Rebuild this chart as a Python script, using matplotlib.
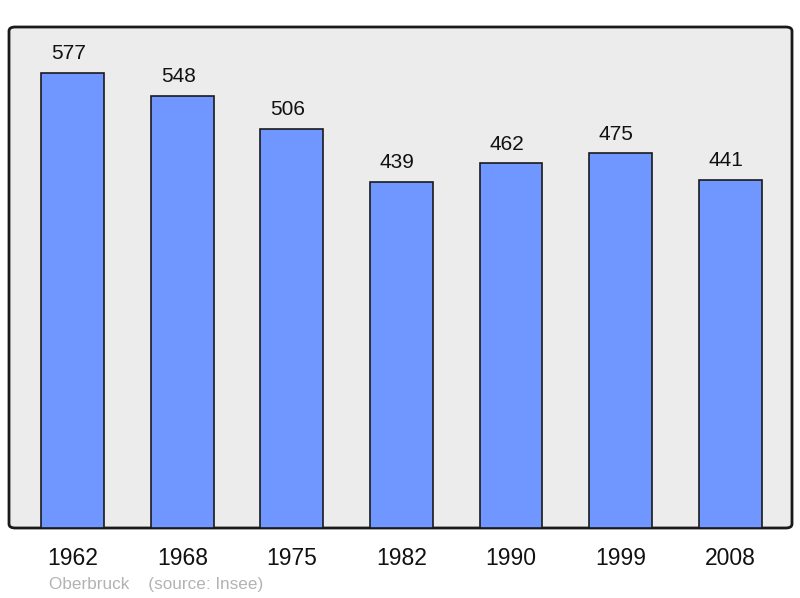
import matplotlib
matplotlib.use("Agg")
import matplotlib.pyplot as plt
from matplotlib.patches import FancyBboxPatch

years = ['1962', '1968', '1975', '1982', '1990', '1999', '2008']
population = [577, 548, 506, 439, 462, 475, 441]

plt.rcParams['font.family'] = ['Liberation Sans', 'DejaVu Sans']

fig = plt.figure(figsize=(8, 5.98), dpi=100)
ax = fig.add_axes([9/800, 70/598, 783/800, 501/598])
ax.set_facecolor('none')

# rounded grey frame behind everything
frame = FancyBboxPatch((0, 0), 1, 1, boxstyle='round,pad=0,rounding_size=0.008',
                       transform=ax.transAxes, facecolor='#ececec',
                       edgecolor='#1a1a1a', linewidth=2, zorder=0, clip_on=False)
ax.add_patch(frame)

x = list(range(len(years)))
bars = ax.bar(x, population, width=0.575, color='#7097ff', edgecolor='#1a1a1a',
              linewidth=1.2, zorder=2)

for xi, v in zip(x, population):
    ax.annotate(str(v), (xi, v), xytext=(-3, 7), textcoords='offset points',
                ha='center', va='bottom', fontsize=15, color='#111111')

ax.set_xlim(-0.584, 6.566)
ax.set_ylim(0, 635)
for s in ax.spines.values():
    s.set_visible(False)
ax.set_yticks([])
ax.set_xticks(x)
ax.set_xticklabels(years, fontsize=16.5, color='#111111')
ax.tick_params(axis='x', length=0, pad=14)

fig.text(49/800, 1 - 585/598, 'Oberbruck    (source: Insee)', fontsize=12.3,
         color='#b3b3b3', va='center', ha='left')

fig.savefig('out.png', dpi=100)
